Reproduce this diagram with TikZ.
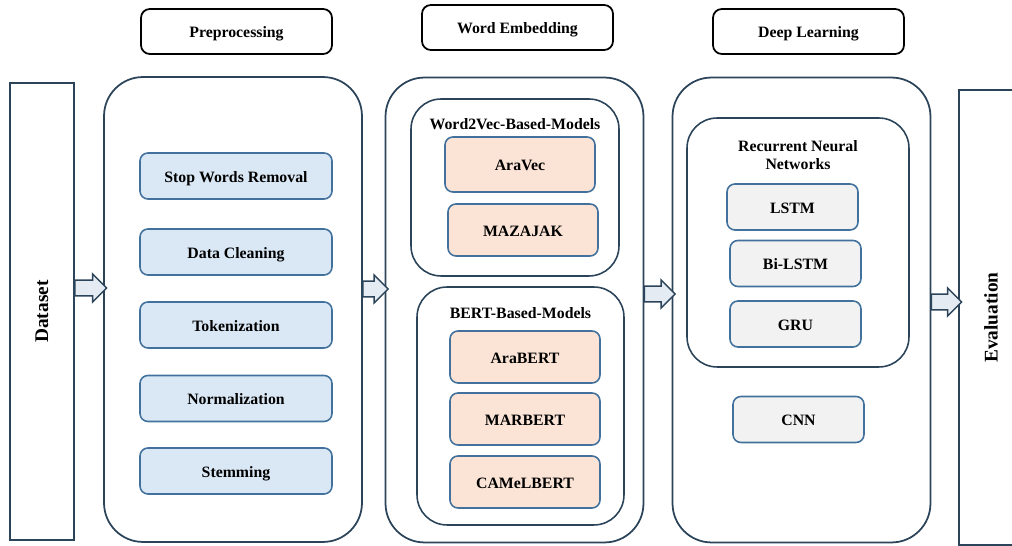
\documentclass[tikz,border=0pt]{standalone}
\usepackage{fontspec}
\setmainfont{Liberation Serif}
\usepackage{tikz}
\usetikzlibrary{calc, positioning}
\definecolor{frameBlue}{HTML}{2C4459}
\definecolor{boxBlue}{HTML}{41719C}
\definecolor{stepFill}{HTML}{DAE8F5}
\definecolor{modelFill}{HTML}{FBE4D6}
\definecolor{netFill}{HTML}{F2F2F2}
\definecolor{arrowFill}{HTML}{E4EBF2}

\tikzset{
  stagetitle/.style={draw=black, line width=1pt, rounded corners=5pt, minimum width=3.82cm, minimum height=0.9cm,
    text height=1.5ex, text depth=0pt},
  stagebox/.style={draw=frameBlue, line width=1pt, rounded corners=0.78cm, minimum width=5.16cm, minimum height=9.3cm},
  groupbox/.style={draw=frameBlue, line width=0.9pt, rounded corners=0.6cm},
  sidebox/.style={draw=frameBlue, line width=1pt, minimum width=1.28cm},
  sidetext/.style={rotate=90, font=\fontsize{11}{13}\selectfont\bfseries},
  itembox/.style={draw=boxBlue, line width=0.9pt, rounded corners=4.5pt, minimum height=0.92cm,
    text height=1.5ex, text depth=0pt},
  stepbox/.style={itembox, fill=stepFill, minimum width=3.84cm},
  modelbox/.style={itembox, fill=modelFill, minimum width=3cm, minimum height=1.04cm},
  netbox/.style={itembox, fill=netFill, minimum width=2.62cm},
  flowarrow/.style={draw=frameBlue, line width=0.8pt, fill=arrowFill, line join=miter}
}

% block arrow from one box to the next, at a given height
\newcommand{\flowArrow}[3]{%
  \draw[flowarrow] let \p1=(#1.east), \p2=(#2.west), \p3=(0,#3) in
    (\x1,\y3+4.5pt) -- (\x2-6pt,\y3+4.5pt) -- (\x2-6pt,\y3+8pt) -- (\x2+2pt,\y3)
    -- (\x2-6pt,\y3-8pt) -- (\x2-6pt,\y3-4.5pt) -- (\x1,\y3-4.5pt) -- cycle;}

\begin{document}
\begin{tikzpicture}[x=0.02cm, y=-0.02cm, font=\fontsize{9}{10.5}\selectfont\bfseries]
    \useasboundingbox (0,0) rectangle (1012,546);
    \clip (0,0) rectangle (1012,546);

    % Stage titles
    \node[stagetitle] (preTitle) at (236.5,31.5) {Preprocessing};
    \node[stagetitle] (embTitle) at (517.5,27.5) {Word Embedding};
    \node[stagetitle] (deepTitle) at (808.5,31.5) {Deep Learning};

    % Input and output
    \node[sidebox, minimum height=9.14cm] (dataset) at (42,311.5) {};
    \node[sidetext] (datasetText) at (dataset) {Dataset};
    \node[sidebox, minimum height=9.1cm] (eval) at (991,317.5) {};
    \node[sidetext] (evalText) at (eval) {Evaluation};

    % Stage boxes
    \node[stagebox] (pre) at (233,309.5) {};
    \node[stagebox] (emb) at (514.5,310) {};
    \node[stagebox] (deep) at (801.5,310) {};

    % Preprocessing steps
    \foreach \name/\y/\txt in {stop/176/Stop Words Removal, clean/252/Data Cleaning,
        token/325/Tokenization, norm/398.5/Normalization, stem/471/Stemming} {
        \node[stepbox] (\name) at (236,\y) {\txt};
    }

    % Word embedding models
    \node[groupbox, minimum width=4.16cm, minimum height=3.54cm] (w2v) at (515,187.5) {};
    \node (w2vTitle) at (515,124) {Word2Vec-Based-Models};
    \node[modelbox, minimum height=1.1cm] (aravec) at (520,164.5) {AraVec};
    \node[modelbox] (mazajak) at (523,230) {MAZAJAK};

    \node[groupbox, minimum width=4.14cm, minimum height=4.76cm] (bert) at (520.5,406) {};
    \node (bertTitle) at (520.5,313) {BERT-Based-Models};
    \node[modelbox] (arabert) at (525,357) {AraBERT};
    \node[modelbox] (marbert) at (525,419) {MARBERT};
    \node[modelbox] (camelbert) at (525,482) {CAMeLBERT};

    % Deep learning models
    \node[groupbox, minimum width=4.44cm, minimum height=4.98cm] (rnn) at (798,242.5) {};
    \node[align=center] (rnnTitle) at (798,155) {Recurrent Neural\\Networks};
    \node[netbox] (lstm) at (792.5,207) {LSTM};
    \node[netbox] (bilstm) at (795.5,263.5) {Bi-LSTM};
    \node[netbox] (gru) at (795.5,324) {GRU};
    \node[netbox] (cnn) at (798.5,419.5) {CNN};

    % Flow
    \flowArrow{dataset}{pre}{288}
    \flowArrow{pre}{emb}{289}
    \flowArrow{emb}{deep}{294}
    \flowArrow{deep}{eval}{302}

\end{tikzpicture}
\end{document}
